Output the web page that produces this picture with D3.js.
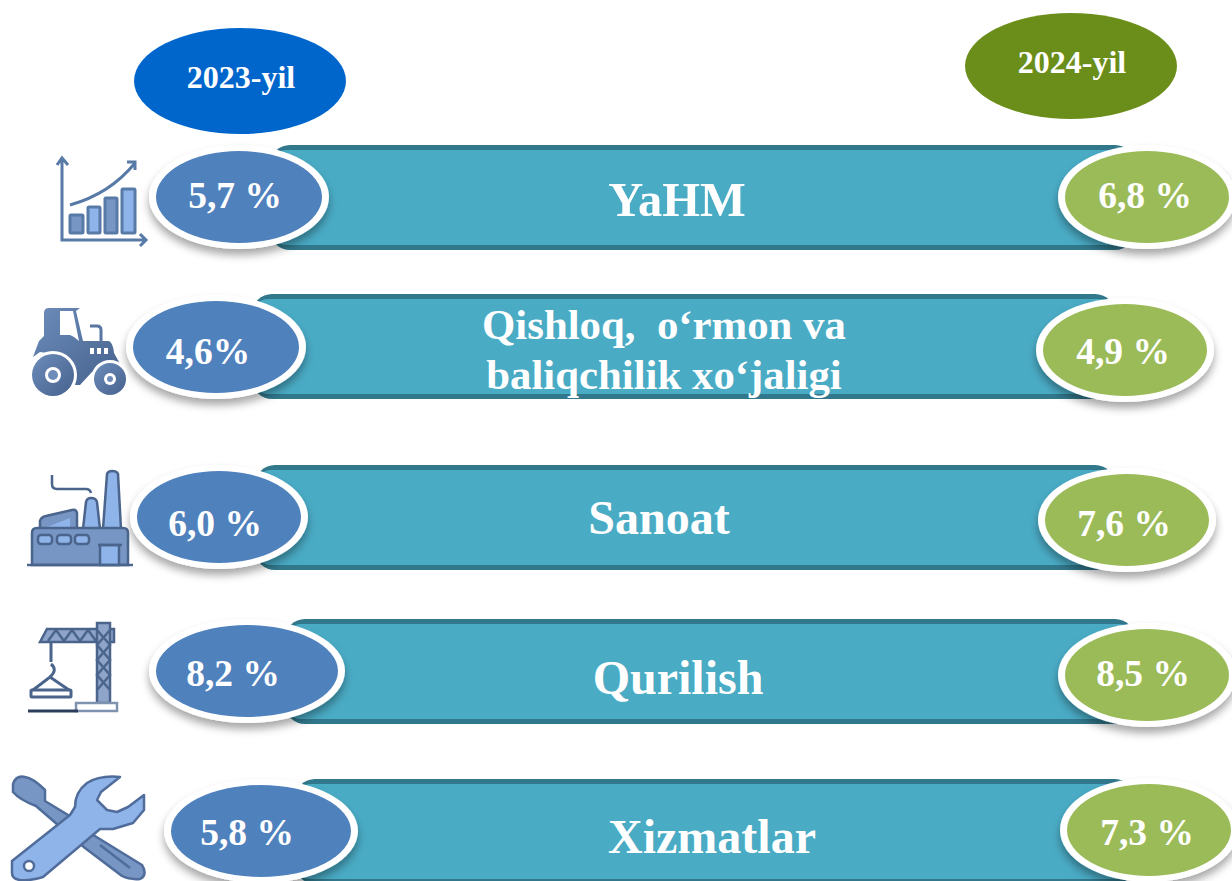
<!DOCTYPE html>
<html>
<head>
<meta charset="utf-8">
<script src="https://cdn.jsdelivr.net/npm/d3@7"></script>
<style>
  html, body { margin: 0; padding: 0; background: #fff; overflow: hidden; }
  text { font-family: "Liberation Serif", serif; font-weight: bold; fill: #fff; }
</style>
</head>
<body>
<svg></svg>
<script>
const width = 1232;
const height = 881;

//datos
const categories = ["YaHM", "Qishloq", "Sanoat", "Qurilish", "Xizmatlar"];
const labelLines = [["YaHM"], ["Qishloq,  o‘rmon va", "baliqchilik xo‘jaligi"], ["Sanoat"], ["Qurilish"], ["Xizmatlar"]];
const values2023 = ["5,7 %", "4,6%", "6,0 %", "8,2 %", "5,8 %"];
const values2024 = ["6,8 %", "4,9 %", "7,6 %", "8,5 %", "7,3 %"];
const years = ["2023-yil", "2024-yil"];

//colocacion de cada fila
const row = range => d3.scaleOrdinal().domain(categories).range(range);
const barTop = row([145, 294, 465, 619, 779]);
const barLeft = row([270, 252, 255, 285, 295]);
const barRight = row([1135, 1115, 1115, 1135, 1135]);
const leftX = row([239, 216, 219, 247, 261]);
const leftY = row([197, 347, 517, 671, 831]);
const leftRx = row([83, 83, 82, 91, 90]);
const rightX = row([1147, 1125, 1127, 1147, 1149]);
const rightY = row([197, 350, 520, 675, 830]);
const leftTextX = row([235, 208, 215, 233, 247]);
const rightTextX = row([1145, 1123, 1124, 1143, 1147]);
const valueBase = row([208, 364, 536, 686, 845]);
const labelX = row([677, 664, 659, 678, 712]);
const labelY = row([216, 339, 534, 694, 853]);
const labelSize = row([48.5, 42.8, 48, 48, 48]);
const barH = 105;

const svg = d3.select("svg").attr("width", width).attr("height", height)
  .style("display", "block");

const defs = svg.append("defs");
const shadow = defs.append("filter").attr("id", "shadow")
  .attr("x", "-20%").attr("y", "-20%").attr("width", "140%").attr("height", "150%");
shadow.append("feDropShadow").attr("dx", 0).attr("dy", 6).attr("stdDeviation", 4)
  .attr("flood-color", "#000").attr("flood-opacity", 0.35);
const iconGrad = defs.append("linearGradient").attr("id", "iconGrad")
  .attr("x1", 0).attr("x2", 1).attr("y1", 0).attr("y2", 1);
iconGrad.append("stop").attr("offset", "0%").attr("stop-color", "#6d8cba");
iconGrad.append("stop").attr("offset", "100%").attr("stop-color", "#46628e");

//barras
const rows = svg.selectAll("g.row").data(categories).join("g").attr("class", "row");

rows.append("rect")
  .attr("x", d => barLeft(d))
  .attr("y", d => barTop(d))
  .attr("width", d => barRight(d) - barLeft(d))
  .attr("height", barH)
  .attr("rx", 20)
  .attr("fill", "#31788c");

rows.append("rect")
  .attr("x", d => barLeft(d))
  .attr("y", d => barTop(d) + 5)
  .attr("width", d => barRight(d) - barLeft(d))
  .attr("height", barH - 10)
  .attr("rx", 16)
  .attr("fill", "#4aabc5");

//elipses
function pill(sel, cx, cy, rx, fill) {
  sel.append("ellipse")
    .attr("cx", cx).attr("cy", cy)
    .attr("rx", d => rx(d) + 7).attr("ry", 52)
    .attr("fill", "#fff")
    .attr("filter", "url(#shadow)");
  sel.append("ellipse")
    .attr("cx", cx).attr("cy", cy)
    .attr("rx", rx).attr("ry", 46)
    .attr("fill", fill);
}

pill(rows, d => leftX(d), d => leftY(d), d => leftRx(d), "#4f81bd");
pill(rows, d => rightX(d), d => rightY(d), () => 82, "#9bbb59");

//valores
rows.append("text")
  .attr("x", d => leftTextX(d))
  .attr("y", d => valueBase(d))
  .attr("text-anchor", "middle")
  .attr("font-size", 37.5)
  .text((d, i) => values2023[i]);

rows.append("text")
  .attr("x", d => rightTextX(d))
  .attr("y", d => valueBase(d))
  .attr("text-anchor", "middle")
  .attr("font-size", 37.5)
  .text((d, i) => values2024[i]);

//etiquetas
rows.each(function (d, i) {
  const lines = labelLines[i];
  d3.select(this).selectAll("text.label").data(lines).join("text")
    .attr("class", "label")
    .attr("x", labelX(d))
    .attr("y", (l, j) => labelY(d) + j * 50)
    .attr("text-anchor", "middle")
    .attr("font-size", labelSize(d))
    .style("white-space", "pre")
    .text(l => l);
});

//años
const yearX = d3.scalePoint().domain(years).range([240, 1071]);
const yearY = d3.scaleOrdinal().domain(years).range([81, 66]);
const yearColor = d3.scaleOrdinal().domain(years).range(["#0066cc", "#6b8e1a"]);

svg.selectAll("ellipse.year").data(years).join("ellipse")
  .attr("class", "year")
  .attr("cx", d => yearX(d)).attr("cy", d => yearY(d))
  .attr("rx", 106).attr("ry", 53)
  .attr("fill", d => yearColor(d));

svg.selectAll("text.year").data(years).join("text")
  .attr("class", "year")
  .attr("x", d => yearX(d) + 1).attr("y", d => yearY(d) + 7)
  .attr("text-anchor", "middle")
  .attr("font-size", 32)
  .text(d => d);

//iconos
const icons = svg.append("g");
const dark = "#587aa6";
const mid = "#7796c4";
const light = "#8fb4ea";
const line = "#4a648c";

//grafico
const chartIcon = icons.append("g");
chartIcon.append("path")
  .attr("d", "M62 159V240H146M57 165L62 158L68 165M140 234L146 240L140 246")
  .attr("fill", "none").attr("stroke", dark).attr("stroke-width", 3);
chartIcon.append("path")
  .attr("d", "M70 205C95 198 118 184 135 163M127 162L135 162L135 170")
  .attr("fill", "none").attr("stroke", dark).attr("stroke-width", 3);
[[70, 215, 13, 18, mid], [88, 207, 12, 26, light], [105, 198, 12, 35, mid], [122, 189, 13, 44, light]]
  .forEach(b => chartIcon.append("rect").attr("x", b[0]).attr("y", b[1]).attr("width", b[2]).attr("height", b[3])
    .attr("rx", 1).attr("fill", b[4]).attr("stroke", dark).attr("stroke-width", 3));

//tractor
const tractor = icons.append("g");
tractor.append("path")
  .attr("d", "M49 308H80L76 311L83 341H109Q113 343 114 353L119 362V367L92 372L80 385H72L65 356L40 352L33 357L39 341Q42 338 44 336V313Q44 308 49 308Z M60 311V335H70L74 337L79 341L73 311Z")
  .attr("fill-rule", "evenodd").attr("fill", "url(#iconGrad)");
tractor.append("path").attr("d", "M90 326H97Q101 326 101 330V342")
  .attr("fill", "none").attr("stroke", "#5a77a3").attr("stroke-width", 3);
[90, 97, 104].forEach(x => tractor.append("rect").attr("x", x).attr("y", 348).attr("width", 4).attr("height", 6).attr("fill", "#fff"));
tractor.append("circle").attr("cx", 53).attr("cy", 375).attr("r", 24).attr("fill", "#fff");
tractor.append("circle").attr("cx", 110).attr("cy", 379).attr("r", 19).attr("fill", "#fff");
[[53, 375, 21, 8], [110, 379, 16, 6]].forEach(w => {
  tractor.append("circle").attr("cx", w[0]).attr("cy", w[1]).attr("r", w[2]).attr("fill", "url(#iconGrad)");
  tractor.append("circle").attr("cx", w[0]).attr("cy", w[1]).attr("r", w[3]).attr("fill", "#fff");
  tractor.append("circle").attr("cx", w[0]).attr("cy", w[1]).attr("r", w[3] - 3).attr("fill", "#6d8cba");
});

//fabrica
const factory = icons.append("g").attr("stroke", line).attr("stroke-width", 2.5);
factory.append("path").attr("d", "M103 529L107 474Q108 471 112 471Q117 471 118 474L121 529Z").attr("fill", light);
factory.append("path").attr("d", "M83 529L86 502Q87 498 91 498Q96 498 97 502L100 529Z").attr("fill", light);
factory.append("path").attr("d", "M40 529V521Q41 517 46 516L72 510Q76 509 77 513V529Z").attr("fill", mid);
factory.append("path").attr("d", "M47 527L70 518V527Z").attr("fill", light).attr("stroke", "none");
factory.append("path").attr("d", "M32 565V533Q32 528 37 528H123Q128 528 128 533V565Z").attr("fill", mid);
factory.append("path").attr("d", "M100 565V545H119V565Z").attr("fill", light);
factory.append("path").attr("d", "M98 545H122").attr("fill", "none");
[38, 57, 75].forEach(x => factory.append("rect").attr("x", x).attr("y", 535).attr("width", 14).attr("height", 9).attr("rx", 3).attr("fill", light));
factory.append("path").attr("d", "M27 565H133M52 475V484Q52 489 57 489H86Q90 489 91 493").attr("fill", "none");

//grua
const crane = icons.append("g").attr("stroke", line).attr("stroke-width", 2.5);
crane.append("path").attr("d", "M40 642L47 629H114V642Z").attr("fill", "#8ea5c9");
crane.append("rect").attr("x", 97).attr("y", 623).attr("width", 13).attr("height", 80).attr("fill", "#8ea5c9");
crane.append("path").attr("d", "M48 641L56 630L64 641L72 630L80 641L88 630L96 641M97 630L110 645L97 660L110 675L97 690M110 630L97 645L110 660L97 675L110 690")
  .attr("fill", "none").attr("stroke", line).attr("stroke-width", 2.5);
crane.append("path").attr("d", "M51 642V662M51 664Q58 670 50 677M33 690L50 677L69 690").attr("fill", "none").attr("stroke-width", 3);
crane.append("rect").attr("x", 31).attr("y", 690).attr("width", 40).attr("height", 7).attr("rx", 1).attr("fill", "#fff").attr("stroke-width", 3);
crane.append("rect").attr("x", 76).attr("y", 703).attr("width", 41).attr("height", 8).attr("fill", "#fff").attr("stroke", "#7f93b0");
crane.append("path").attr("d", "M28 711H78").attr("stroke", "#2c3e5c").attr("stroke-width", 3);

//herramientas
const tools = icons.append("g").attr("stroke", "#4f6c9a").attr("stroke-width", 2.5).attr("stroke-linejoin", "round");
tools.append("path")
  .attr("d", "M13 784Q16 775 25 777Q33 778 45 790V801L68 815L90 833L142 865Q148 875 140 879Q130 880 122 876L85 848L58 825L36 806Q20 800 13 792Z")
  .attr("fill", mid);
tools.append("path").attr("d", "M100 845L130 868").attr("fill", "none");
tools.append("path")
  .attr("d", "M12 861L70 815L75 807Q75 792 87 783Q100 775 120 777L101 792L97 800L107 810L117 812L128 807L144 795V810L133 823L113 829H100L43 877Q30 881 20 880Q12 879 12 873Z")
  .attr("fill", light);
tools.append("circle").attr("cx", 29).attr("cy", 866).attr("r", 5).attr("fill", "#fff");
</script>
</body>
</html>
